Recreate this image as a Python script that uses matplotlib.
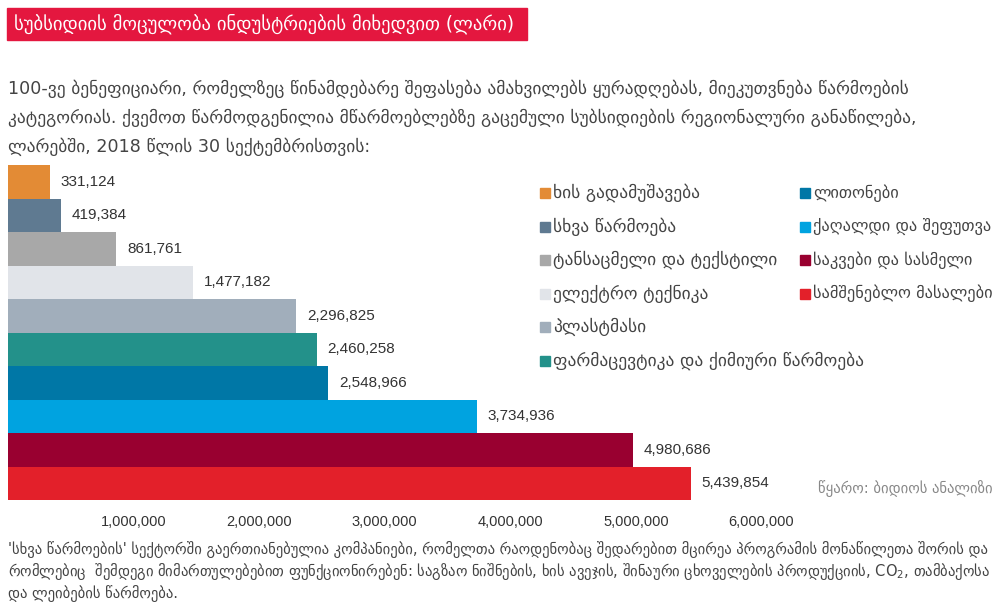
import matplotlib.pyplot as plt
from matplotlib.patches import Rectangle

plt.rcParams['font.family'] = ['DejaVu Sans']

# data, top to bottom as drawn
categories = ['ხის გადამუშავება', 'სხვა წარმოება', 'ტანსაცმელი და ტექსტილი',
              'ელექტრო ტექნიკა', 'პლასტმასი', 'ფარმაცევტიკა და ქიმიური წარმოება',
              'ლითონები', 'ქაღალდი და შეფუთვა', 'საკვები და სასმელი',
              'სამშენებლო მასალები']
values = [331124, 419384, 861761, 1477182, 2296825, 2460258, 2548966,
          3734936, 4980686, 5439854]
colors = ['#E38B35', '#5F7A91', '#A8A8A8', '#E1E4E9', '#A1AEBB', '#23918A',
          '#0077A6', '#00A3E0', '#990030', '#E3202A']
xticks = [1000000, 2000000, 3000000, 4000000, 5000000, 6000000]

title = 'სუბსიდიის მოცულობა ინდუსტრიების მიხედვით (ლარი)'
intro = ['100-ვე ბენეფიციარი, რომელზეც წინამდებარე შეფასება ამახვილებს ყურადღებას, მიეკუთვნება წარმოების',
         'კატეგორიას. ქვემოთ წარმოდგენილია მწარმოებლებზე გაცემული სუბსიდიების რეგიონალური განაწილება,',
         'ლარებში, 2018 წლის 30 სექტემბრისთვის:']
note = ["'სხვა წარმოების' სექტორში გაერთიანებულია კომპანიები, რომელთა რაოდენობაც შედარებით მცირეა პროგრამის მონაწილეთა შორის და",
        'რომლებიც  შემდეგი მიმართულებებით ფუნქციონირებენ: საგზაო ნიშნების, ხის ავეჯის, შინაური ცხოველების პროდუქციის, CO$_2$, თამბაქოსა',
        'და ლეიბების წარმოება.']
source = 'წყარო: ბიდიოს ანალიზი'

W, H = 1002, 605
fig = plt.figure(figsize=(W / 100, H / 100), dpi=100)
num_font = ['Liberation Sans', 'DejaVu Sans']

# title box
fig.patches.append(Rectangle((7 / W, 1 - 40 / H), 520 / W, 32 / H,
                             transform=fig.transFigure, color='#E4173F', zorder=0))
fig.text(14 / W, 1 - 24 / H, title, color='white', fontsize=13.4, va='center')

for i, line in enumerate(intro):
    fig.text(8 / W, 1 - (89 + i * 29) / H, line, color='#444444', fontsize=12.6, va='center')

for i, line in enumerate(note):
    fig.text(8 / W, 1 - (549 + i * 22.5) / H, line, color='#444444', fontsize=10.5, va='center')

fig.text(818 / W, 1 - 489 / H, source, color='#888888', fontsize=10.5, va='center')

# bars
ax = fig.add_axes([8 / W, 105 / H, 879 / W, 335 / H])
ypos = list(range(len(values)))
ax.barh(ypos, values, height=1.0, color=colors)
for y, v in zip(ypos, values):
    ax.text(v + 85000, y, f'{v:,}', va='center', ha='left', fontsize=11,
            color='#333333', family=num_font)
ax.set_ylim(len(values) - 0.5, -0.5)
ax.set_xlim(0, 7000000)
ax.set_yticks([])
ax.set_xticks(xticks)
ax.set_xticklabels([f'{t:,}' for t in xticks], family=num_font, fontsize=10.5, color='#333333')
ax.tick_params(axis='x', length=0, pad=11)
for s in ax.spines.values():
    s.set_visible(False)

# legend, two columns
leg_cols = [(540, categories[:6], colors[:6], 12.6), (800, categories[6:], colors[6:], 11.8)]
for x0, names, cols, fs in leg_cols:
    for j, (name, c) in enumerate(zip(names, cols)):
        yy = 1 - (193 + j * 33.5) / H
        fig.patches.append(Rectangle((x0 / W, yy - 5 / H), 10 / W, 10 / H,
                                     transform=fig.transFigure, color=c))
        fig.text((x0 + 13) / W, yy, name, color='#444444', fontsize=fs, va='center')

fig.savefig('out.png', dpi=100)
